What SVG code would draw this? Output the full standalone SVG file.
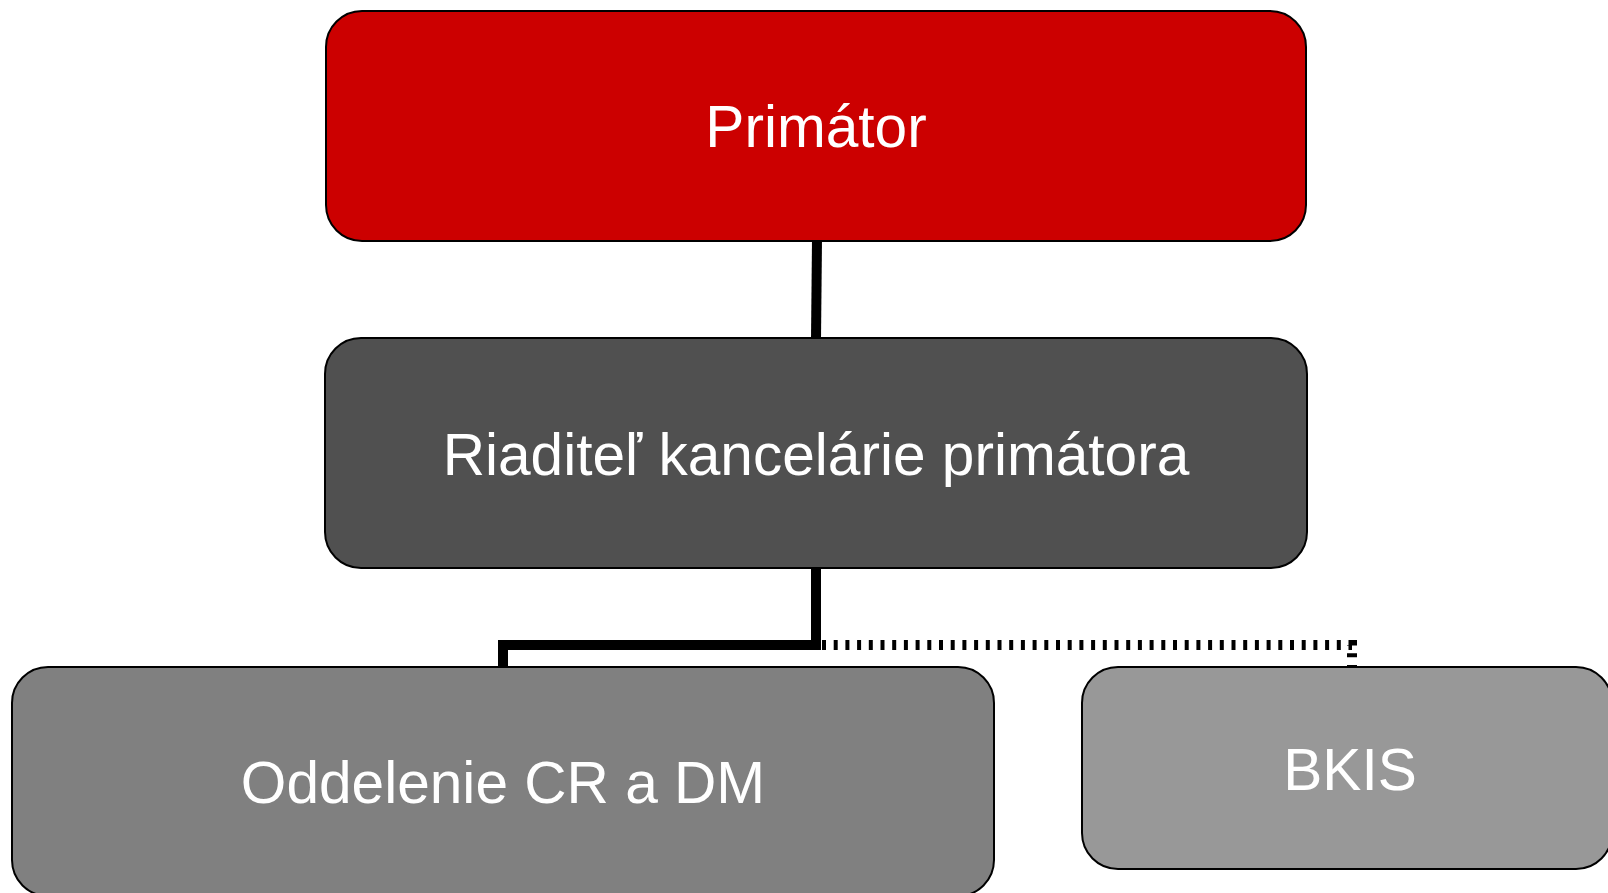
<svg xmlns="http://www.w3.org/2000/svg" width="1608" height="893" viewBox="0 0 1608 893">
<style>
.box{stroke:#000;stroke-width:2}
.lbl{font-family:"Liberation Sans",Arial,sans-serif;font-size:58.6px;fill:#fff;text-anchor:middle}
.con{fill:none;stroke:#000;stroke-width:10}
.dot{fill:none;stroke:#000;stroke-width:10;stroke-dasharray:4 7.7}
</style>
<rect width="1608" height="893" fill="#fff"/>
<g id="connectors">
<path class="con" d="M817 240 L816 339"/>
<path class="con" d="M816 567 L816 645 L503 645 L503 668"/>
<path class="dot" d="M822 645 L1352 645 L1352 668"/>
</g>
<g id="primator">
<rect class="box" x="326" y="11" width="980" height="230" rx="36" fill="#CC0000"/>
<text class="lbl" x="816" y="147">Primátor</text>
</g>
<g id="riaditel">
<rect class="box" x="325" y="338" width="982" height="230" rx="36" fill="#505050"/>
<text class="lbl" x="816" y="475">Riaditeľ kancelárie primátora</text>
</g>
<g id="oddelenie">
<rect class="box" x="12" y="667" width="982" height="229" rx="36" fill="#808080"/>
<text class="lbl" x="503" y="803">Oddelenie CR a DM</text>
</g>
<g id="bkis">
<rect class="box" x="1082" y="667" width="530" height="202" rx="36" fill="#989898"/>
<text class="lbl" x="1350" y="790">BKIS</text>
</g>
</svg>
